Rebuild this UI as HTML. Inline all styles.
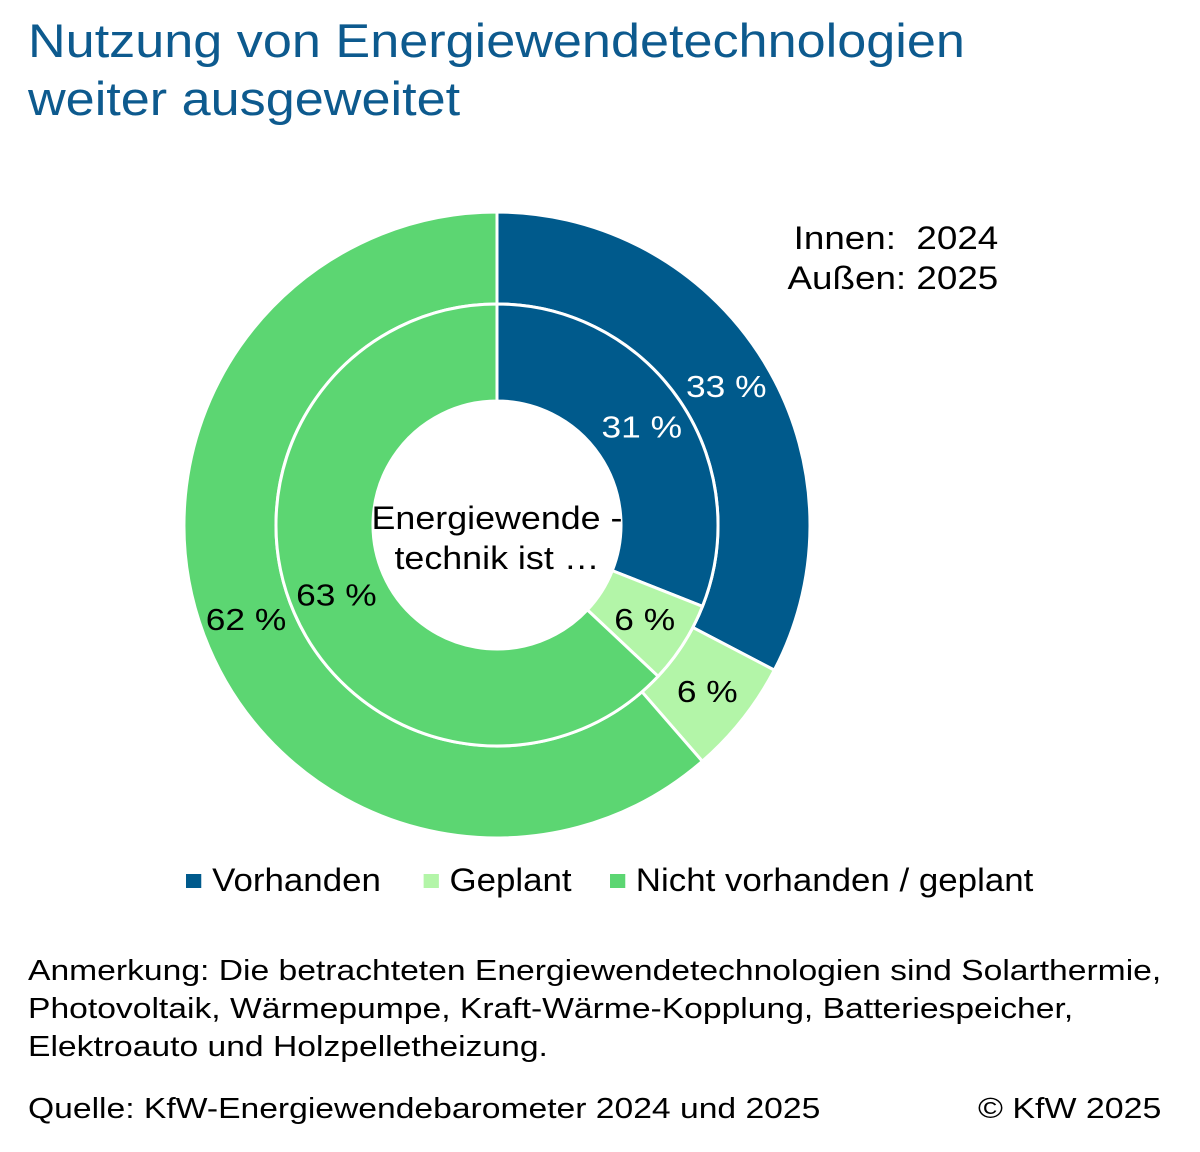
<!DOCTYPE html>
<html><head><meta charset="utf-8"><style>
body{margin:0;width:1200px;height:1152px;background:#fff;font-family:"Liberation Sans",sans-serif;overflow:hidden;position:relative}
.t{position:absolute;white-space:nowrap;transform-origin:0 0}
</style></head><body>
<div class="t" style="left:28px;top:12px;font-size:47px;line-height:58px;color:#0d5a8e;transform:scaleX(1.11)">Nutzung von Energiewendetechnologien<br>weiter ausgeweitet</div>
<div class="t" style="right:202px;top:218px;font-size:32px;line-height:40px;color:#000;text-align:right;transform-origin:100% 0;transform:scaleX(1.15)">Innen:&nbsp; 2024<br>Außen: 2025</div>
<svg id="chart" width="1200" height="1152" style="position:absolute;left:0;top:0"></svg>
<div class="t" style="left:186px;top:862px;font-size:32px;color:#000;transform:scaleX(1.09)">
<span><span style="display:inline-block;width:14px;height:14px;background:#005a8c;margin-right:10px;vertical-align:3px"></span>Vorhanden</span>
<span style="margin-left:30px"><span style="display:inline-block;width:14px;height:14px;background:#b3f5a8;margin-right:10px;vertical-align:3px"></span>Geplant</span>
<span style="margin-left:26px"><span style="display:inline-block;width:14px;height:14px;background:#5cd672;margin-right:10px;vertical-align:3px"></span>Nicht vorhanden / geplant</span></div>
<div class="t" style="left:28px;top:952px;font-size:29px;line-height:38px;color:#000;transform:scaleX(1.16)">Anmerkung: Die betrachteten Energiewendetechnologien sind Solarthermie,<br>Photovoltaik, Wärmepumpe, Kraft-Wärme-Kopplung, Batteriespeicher,<br>Elektroauto und Holzpelletheizung.</div>
<div class="t" style="left:28px;top:1093px;font-size:29px;color:#000;transform:scaleX(1.16)">Quelle: KfW-Energiewendebarometer 2024 und 2025</div>
<div class="t" style="left:978px;top:1093px;font-size:29px;color:#000;transform:scaleX(1.17)">© KfW 2025</div>
<script>
const categories=["Vorhanden","Geplant","Nicht vorhanden / geplant"];
const inner2024=[31,6,63];
const outer2025=[33,6,62];
const colors=["#005a8c","#b3f5a8","#5cd672"];
const labelColors=["#fff","#000","#000"];
const svg=document.getElementById('chart');const NS="http://www.w3.org/2000/svg";
const cx=497,cy=525;
function pt(a,r){return [cx+r*Math.sin(a),cy-r*Math.cos(a)];}
function ring(vals,r0,r1,lr,name){
 const tot=vals.reduce((a,b)=>a+b,0);let s=0;
 vals.forEach((v,i)=>{
  const a0=s/tot*2*Math.PI,a1=(s+v)/tot*2*Math.PI;s+=v;
  const lg=a1-a0>Math.PI?1:0;
  const p0=pt(a0,r1),p1=pt(a1,r1),p2=pt(a1,r0),p3=pt(a0,r0);
  const p=document.createElementNS(NS,'path');
  p.setAttribute('d',`M${p0}A${r1},${r1} 0 ${lg} 1 ${p1}L${p2}A${r0},${r0} 0 ${lg} 0 ${p3}Z`);
  p.setAttribute('fill',colors[i]);p.setAttribute('stroke','#fff');p.setAttribute('stroke-width','3');
  
  
  svg.appendChild(p);
  const m=pt((a0+a1)/2,lr);
  const t=document.createElementNS(NS,'text');
  t.setAttribute('transform',`translate(${m[0]},${m[1]+11}) scale(1.14,1)`);
  t.setAttribute('text-anchor','middle');
  t.setAttribute('font-size','31');t.setAttribute('font-family','Liberation Sans, sans-serif');
  t.setAttribute('fill',labelColors[i]);t.textContent=v+' %';
  
  
  svg.appendChild(t);
 });
}
ring(outer2025,221,313,268,'outer');
ring(inner2024,124,221,175,'inner');
['Energiewende -','technik ist  …'].forEach((s,i)=>{
 const t=document.createElementNS(NS,'text');
 t.setAttribute('transform',`translate(${cx},${529+i*40}) scale(1.12,1)`);
 t.setAttribute('text-anchor','middle');
 t.setAttribute('font-size','32');t.setAttribute('font-family','Liberation Sans, sans-serif');
 t.setAttribute('xml:space','preserve');t.textContent=s;
 
 
 svg.appendChild(t);
});
</script>
</body></html>
